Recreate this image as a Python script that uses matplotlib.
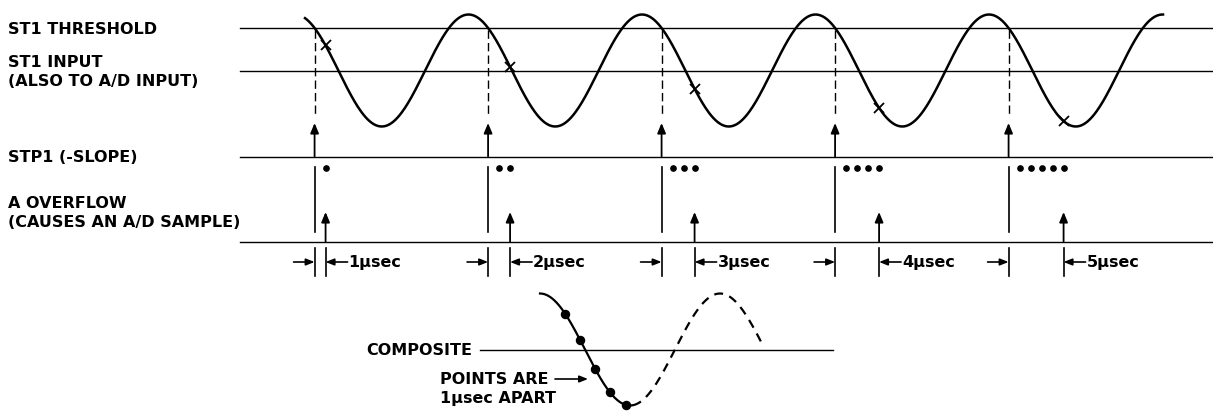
import matplotlib.pyplot as plt
import numpy as np

# ----- Diagram data (drawing units: 1 unit = 1 px of the 1213x412 sheet) -----
row_names = ['ST1 THRESHOLD', 'ST1 INPUT', '(ALSO TO A/D INPUT)', 'STP1 (-SLOPE)',
             'A OVERFLOW', '(CAUSES AN A/D SAMPLE)']
row_name_y = [29, 62, 81, 157, 203, 222]

thresh_y = 28
input_y = 70.5
stp1_y = 156.5
aovf_y = 241.5
trace_start = 240

# ST1 input waveform
wave_amp = 56
wave_period = 173.5
wave_peak0 = 295
wave_start, wave_end = 305, 1163

# A/D sample delay after each STP1 pulse
delays_us = [1, 2, 3, 4, 5]
us_width = 11

# composite waveform
comp_y = 349.5
comp_line = (480, 833)
comp_peak = 540
comp_period = 180
comp_solid_end = 640
comp_dash_end = 762
comp_dot_x = [565, 580, 595, 610, 626]

FONT = dict(family='DejaVu Sans', fontweight='bold', fontsize=11.5, color='black')


def wave(x):
    return input_y - wave_amp * np.cos(2 * np.pi * (x - wave_peak0) / wave_period)


def comp_wave(x):
    return comp_y - wave_amp * np.cos(2 * np.pi * (x - comp_peak) / comp_period)


def arrow(ax, x0, y0, x1, y1, hw=0.25, hl=0.6, lw=1.3):
    ax.annotate('', xy=(x1, y1), xytext=(x0, y0),
                arrowprops=dict(arrowstyle=f'-|>,head_width={hw},head_length={hl}',
                                color='black', lw=lw, shrinkA=0, shrinkB=0))


# ----- Plotting -----
fig = plt.figure(figsize=(12.13, 4.12), dpi=100)
ax = fig.add_axes([0, 0, 1, 1])
ax.set_xlim(0, 1213)
ax.set_ylim(412, 0)
ax.axis('off')

for name, y in zip(row_names, row_name_y):
    ax.text(8, y, name, ha='left', va='center', **FONT)

# horizontal traces
for y in [thresh_y, input_y, stp1_y, aovf_y]:
    ax.plot([trace_start, 1213], [y, y], color='black', lw=1.0)

# input sine wave
xs = np.linspace(wave_start, wave_end, 800)
ax.plot(xs, wave(xs), color='black', lw=1.8)

# STP1 fires where the wave falls through the threshold
offset = wave_period * np.arccos((input_y - thresh_y) / wave_amp) / (2 * np.pi)
triggers = [wave_peak0 + offset + k * wave_period for k in range(len(delays_us))]

for trig, d in zip(triggers, delays_us):
    samp = trig + d * us_width
    # dashed drop line from threshold crossing
    ax.plot([trig, trig], [thresh_y + 2, 116], color='black', lw=1.0,
            linestyle=(0, (6, 3)))
    arrow(ax, trig, stp1_y, trig, 123)
    # STP1 pulse and counter clocks
    ax.plot([trig, trig], [stp1_y + 10, aovf_y - 10], color='black', lw=1.2)
    dots_x = [trig + k * us_width for k in range(1, d + 1)]
    ax.plot(dots_x, [168] * d, 'o', color='black', ms=3.8)
    # A overflow pulse
    arrow(ax, samp, aovf_y, samp, 212)
    # sample point on input
    ax.plot([samp], [wave(samp)], marker='x', color='black', ms=7.5, mew=1.3)
    # dimension
    ax.plot([trig, trig], [248, 276], color='black', lw=1.2)
    ax.plot([samp, samp], [248, 276], color='black', lw=1.2)
    arrow(ax, trig - 21, 262, trig, 262, hw=0.2, hl=0.5, lw=1.2)
    arrow(ax, samp + 22, 262, samp, 262, hw=0.2, hl=0.5, lw=1.2)
    ax.text(samp + 23, 263, f'{d}\u00b5sec', ha='left', va='center', **FONT)

# ----- Composite -----
ax.text(472, comp_y + 1, 'COMPOSITE', ha='right', va='center', **FONT)
ax.plot(comp_line, [comp_y, comp_y], color='black', lw=1.0)

xs = np.linspace(comp_peak, comp_solid_end, 200)
ax.plot(xs, comp_wave(xs), color='black', lw=1.6)
xs = np.linspace(comp_solid_end + 6, comp_dash_end, 300)
ax.plot(xs, comp_wave(xs), color='black', lw=1.6, linestyle=(0, (4, 3)))
ax.plot(comp_dot_x, comp_wave(np.array(comp_dot_x)), 'o', color='black', ms=5.8)

ax.text(440, 379, 'POINTS ARE', ha='left', va='center', **FONT)
ax.text(440, 398, '1\u00b5sec APART', ha='left', va='center', **FONT)
arrow(ax, 555, 379, 588, 379, hw=0.2, hl=0.5, lw=1.2)

plt.savefig('out.png', dpi=100)
